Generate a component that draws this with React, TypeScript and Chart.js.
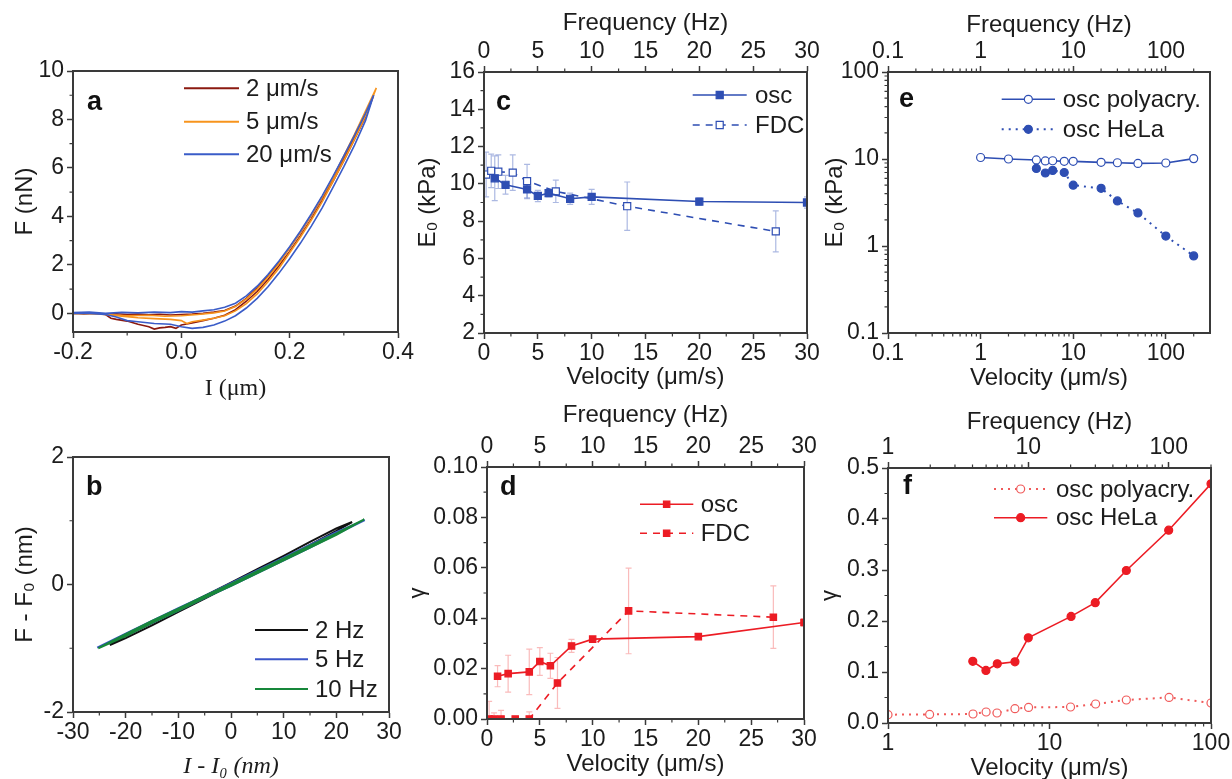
import React, { useEffect, useRef } from "react";
import { Chart, registerables } from "chart.js";
Chart.register(...registerables);

const SANS = "'Liberation Sans', Arial, Helvetica, sans-serif";
const SERIF = "'Liberation Serif', 'Times New Roman', serif";
const AX = "#3a3a3a";
const TXT = "#1c1c1c";
const BLUE = "#2e4eb3";
const BLUE_ERR = "rgba(70,100,190,0.45)";
const RED = "#ec1c24";
const RED_ERR = "rgba(240,60,60,0.35)";
const RED_LIGHT = "#f05a5a";

// ---------- panel a : force curves ----------
const aRedX = [-0.2,-0.18,-0.16,-0.14,-0.12,-0.1,-0.08,-0.06,-0.04,-0.02,0.0,0.02,0.04,0.06,0.08,0.1,0.12,0.14,0.16,0.18,0.2,0.22,0.24,0.26,0.28,0.3,0.32,0.34,0.355,0.34,0.32,0.3,0.28,0.26,0.24,0.22,0.2,0.18,0.16,0.14,0.12,0.1,0.08,0.06,0.04,0.02,0.0,-0.01,-0.02,-0.03,-0.04,-0.05,-0.06,-0.07,-0.08,-0.1,-0.12,-0.13,-0.14,-0.16,-0.2];
const aRedY = [0.02,-0.03,0.01,-0.04,-0.02,-0.05,-0.03,-0.06,-0.04,-0.07,-0.05,-0.03,0.0,0.05,0.12,0.3,0.62,1.05,1.55,2.1,2.7,3.35,4.05,4.8,5.6,6.45,7.35,8.25,9.0,8.1,7.2,6.3,5.45,4.65,3.9,3.2,2.55,1.95,1.4,0.9,0.5,0.15,-0.08,-0.2,-0.3,-0.4,-0.48,-0.62,-0.55,-0.58,-0.6,-0.65,-0.55,-0.5,-0.45,-0.32,-0.25,-0.2,-0.05,0.0,0.0];
const aOrgX = [-0.2,-0.17,-0.14,-0.1,-0.06,-0.03,0.0,0.03,0.06,0.08,0.1,0.12,0.14,0.16,0.18,0.2,0.22,0.24,0.26,0.28,0.3,0.32,0.34,0.36,0.34,0.32,0.3,0.28,0.26,0.24,0.22,0.2,0.18,0.16,0.14,0.12,0.1,0.08,0.06,0.04,0.02,0.01,0.0,-0.02,-0.05,-0.08,-0.11,-0.14,-0.17,-0.2];
const aOrgY = [-0.02,0.0,-0.05,-0.1,-0.08,-0.12,-0.1,-0.05,0.02,0.1,0.28,0.6,1.0,1.5,2.05,2.7,3.35,4.05,4.8,5.6,6.5,7.4,8.35,9.3,8.15,7.2,6.3,5.45,4.6,3.85,3.15,2.5,1.85,1.3,0.8,0.4,0.1,-0.1,-0.2,-0.28,-0.35,-0.42,-0.3,-0.25,-0.22,-0.18,-0.12,-0.05,-0.02,-0.02];
const aBluX = [-0.2,-0.17,-0.14,-0.11,-0.08,-0.05,-0.02,0.0,0.02,0.04,0.06,0.08,0.1,0.12,0.14,0.16,0.18,0.2,0.22,0.24,0.26,0.28,0.3,0.32,0.34,0.355,0.34,0.32,0.3,0.28,0.26,0.24,0.22,0.2,0.18,0.16,0.14,0.12,0.1,0.08,0.06,0.04,0.02,0.0,-0.02,-0.05,-0.08,-0.1,-0.12,-0.14,-0.17,-0.2];
const aBluY = [0.03,0.05,0.0,0.04,0.02,0.05,0.03,0.07,0.05,0.1,0.15,0.25,0.42,0.72,1.12,1.6,2.15,2.75,3.4,4.1,4.85,5.65,6.5,7.35,8.25,9.0,7.95,6.95,6.05,5.2,4.35,3.6,2.9,2.25,1.65,1.1,0.62,0.22,-0.1,-0.32,-0.48,-0.58,-0.62,-0.55,-0.45,-0.42,-0.35,-0.3,-0.15,-0.05,0.0,0.0];

// ---------- panel b : oscillation loops ----------
const bBlkX = [-23,-20,-15,-10,-5,0,5,10,15,20,23,20,15,10,5,0,-5,-10,-15,-20,-23];
const bBlkY = [-0.95,-0.84,-0.64,-0.43,-0.22,-0.01,0.2,0.41,0.62,0.84,0.98,0.88,0.67,0.45,0.24,0.03,-0.18,-0.39,-0.6,-0.8,-0.95];
const bBluX = [-25.4,-20,-15,-10,-5,0,5,10,15,20,25.4,20,15,10,5,0,-5,-10,-15,-20,-25.4];
const bBluY = [-0.99,-0.8,-0.6,-0.41,-0.21,-0.02,0.18,0.38,0.58,0.79,1.01,0.82,0.62,0.42,0.22,0.02,-0.18,-0.37,-0.57,-0.77,-0.99];
const bGrnX = [-25.2,-20,-15,-10,-5,0,5,10,15,20,25.3,20,15,10,5,0,-5,-10,-15,-20,-25.2];
const bGrnY = [-1.0,-0.78,-0.57,-0.38,-0.18,0.01,0.21,0.41,0.61,0.8,1.02,0.78,0.58,0.38,0.18,-0.02,-0.21,-0.41,-0.6,-0.81,-1.0];

// ---------- panel c : E0 vs velocity ----------
const cOscV = [1, 2, 4, 5, 6, 8, 10, 20, 30];
const cOscE = [10.3, 9.95, 9.7, 9.35, 9.5, 9.2, 9.3, 9.05, 9.0];
const cOscErr = [1.2, 0.5, 0.5, 0.3, 0.2, 0.3, 0.4, 0.2, 0.3];
const cFdcV = [0.2, 0.67, 1.33, 2.67, 4, 6.67, 13.3, 27.1];
const cFdcE = [10.5, 10.7, 10.65, 10.6, 10.15, 9.6, 8.8, 7.45];
const cFdcErr = [1.2, 0.9, 0.9, 0.95, 0.9, 0.6, 1.3, 1.1];

// ---------- panel d : gamma vs velocity ----------
const dOscV = [1, 2, 4, 5, 6, 8, 10, 20, 30];
const dOscG = [0.017, 0.018, 0.0187, 0.0228, 0.0211, 0.029, 0.0317, 0.0327, 0.0383];
const dOscErr = [0.0042, 0.0073, 0.009, 0.0055, 0.005, 0.0026, 0.001, 0.001, 0.0015];
const dFdcV = [0.2, 0.67, 1.33, 2.67, 4, 6.67, 13.4, 27.1];
const dFdcG = [0, 0, 0, 0, 0, 0.0143, 0.0429, 0.0404];
const dFdcErr = [0.007, 0.0024, 0.0034, 0, 0.0028, 0.0101, 0.017, 0.0124];

// ---------- panel e : E0 log-log ----------
const ePolyV = [1, 2, 4, 5, 6, 8, 10, 20, 30, 50, 100, 200];
const ePolyE = [10.4, 10.0, 9.75, 9.5, 9.55, 9.4, 9.4, 9.15, 9.05, 8.9, 9.0, 10.1];
const eHelaV = [4, 5, 6, 8, 10, 20, 30, 50, 100, 200];
const eHelaE = [7.8, 6.9, 7.4, 7.0, 5.0, 4.6, 3.3, 2.4, 1.3, 0.77];

// ---------- panel f : gamma vs velocity (log x) ----------
const fPolyV = [1.0, 1.81, 3.36, 4.05, 4.73, 6.11, 7.42, 13.5, 19.3, 29.9, 55, 100];
const fPolyG = [0.0163, 0.0169, 0.0176, 0.0216, 0.0196, 0.028, 0.0306, 0.0314, 0.0373, 0.0451, 0.0502, 0.0392];
const fPolyErr = [0.002, 0.002, 0.006, 0.003, 0.002, 0.003, 0.003, 0.003, 0.002, 0.002, 0.002, 0.004];
const fHelaV = [3.35, 4.04, 4.75, 6.11, 7.39, 13.6, 19.2, 29.9, 54.7, 100];
const fHelaG = [0.121, 0.103, 0.116, 0.12, 0.167, 0.209, 0.236, 0.299, 0.378, 0.469];

// ---------- tick lists ----------
const logMinor = (decades: number[]) => {
  const out: number[] = [];
  decades.forEach((d) => [2, 3, 4, 5, 6, 7, 8, 9].forEach((k) => out.push(+(d * k).toPrecision(3))));
  return out;
};

const pts = (xs: number[], ys: number[]) => xs.map((x, i) => ({ x, y: ys[i] }));

const L = 90, T = 70, B = 80, R = 30;

type AxisSpec = {
  type: "linear" | "logarithmic";
  min: number; max: number;
  majors: number[]; minors: number[];
  fmt: (v: number) => string;
  title?: string; titleFont?: any; titlePad?: number;
};
type LegendRow = { dy: number; color: string; dash: number[]; lw: number; marker?: "rect" | "circle"; r?: number; filled?: boolean; text: string };
type PanelSpec = {
  left: number; top: number; right: number; bottom: number;
  x: AxisSpec; y: AxisSpec; x2?: AxisSpec;
  datasets: any[];
  label: { text: string; dx: number; dy: number };
  legend: { x0: number; x1: number; tx: number; rows: LegendRow[] };
};

const f1 = (v: number) => v.toFixed(1);
const f0 = (v: number) => String(Math.round(v));
const f2 = (v: number) => v.toFixed(2);
const fLog = (v: number) => String(v);

function axis(spec: AxisSpec, pos: "bottom" | "top" | "left", size: number) {
  return {
    type: spec.type,
    position: pos,
    min: spec.min,
    max: spec.max,
    afterBuildTicks: (s: any) => {
      s.ticks = spec.majors.map((v) => ({ value: v }));
    },
    afterFit: (s: any) => {
      if (pos === "left") s.width = size;
      else s.height = size;
    },
    ticks: {
      font: { family: SANS, size: 23 },
      color: TXT,
      padding: pos === "left" ? 3 : 1,
      autoSkip: false,
      maxRotation: 0,
      minRotation: 0,
      callback: (v: any) => spec.fmt(Number(v)),
    },
    grid: { display: true, drawOnChartArea: false, drawTicks: true, tickLength: 6, tickColor: AX, tickWidth: 1.5, color: AX },
    border: { display: true, color: AX, width: 2 },
    title: spec.title
      ? { display: true, text: spec.title, color: TXT, font: spec.titleFont ?? { family: SANS, size: 24 }, padding: { top: spec.titlePad ?? 0, bottom: spec.titlePad ?? 0 } }
      : { display: false },
  };
}

const errorBarPlugin = {
  id: "errbars",
  beforeDatasetsDraw(chart: any) {
    const { ctx, chartArea } = chart;
    const xs = chart.scales.x, ys = chart.scales.y;
    ctx.save();
    ctx.beginPath();
    ctx.rect(chartArea.left, chartArea.top, chartArea.right - chartArea.left, chartArea.bottom - chartArea.top);
    ctx.clip();
    chart.data.datasets.forEach((ds: any) => {
      if (!ds.errors) return;
      ctx.strokeStyle = ds.errColor;
      ctx.lineWidth = 1.2;
      ds.data.forEach((p: any, i: number) => {
        const e = ds.errors[i];
        if (!e) return;
        const px = xs.getPixelForValue(p.x);
        const y1 = ys.getPixelForValue(p.y - e);
        const y2 = ys.getPixelForValue(p.y + e);
        ctx.beginPath();
        ctx.moveTo(px, y1); ctx.lineTo(px, y2);
        ctx.moveTo(px - 3, y1); ctx.lineTo(px + 3, y1);
        ctx.moveTo(px - 3, y2); ctx.lineTo(px + 3, y2);
        ctx.stroke();
      });
    });
    ctx.restore();
  },
};

function drawMarker(ctx: CanvasRenderingContext2D, kind: string, x: number, y: number, r: number, color: string, filled: boolean) {
  ctx.beginPath();
  if (kind === "rect") {
    const s = r * Math.SQRT1_2;
    ctx.rect(x - s, y - s, 2 * s, 2 * s);
  } else {
    ctx.arc(x, y, r, 0, Math.PI * 2);
  }
  ctx.setLineDash([]);
  ctx.fillStyle = filled ? color : "#fff";
  ctx.fill();
  ctx.strokeStyle = color;
  ctx.lineWidth = 1.2;
  ctx.stroke();
}

function decorPlugin(spec: PanelSpec) {
  return {
    id: "decor",
    afterDraw(chart: any) {
      const { ctx, chartArea } = chart;
      const { left, top, right, bottom } = chartArea;
      ctx.save();
      // frame
      ctx.strokeStyle = AX;
      ctx.lineWidth = 2;
      ctx.setLineDash([]);
      ctx.strokeRect(left, top, right - left, bottom - top);
      // minor ticks
      ctx.lineWidth = 1.2;
      const mt = 3.5;
      const sx = chart.scales.x, sy = chart.scales.y, sx2 = chart.scales.x2;
      ctx.beginPath();
      spec.x.minors.forEach((v) => {
        const p = sx.getPixelForValue(v);
        ctx.moveTo(p, bottom); ctx.lineTo(p, bottom + mt);
      });
      spec.y.minors.forEach((v) => {
        const p = sy.getPixelForValue(v);
        ctx.moveTo(left, p); ctx.lineTo(left - mt, p);
      });
      if (spec.x2 && sx2) {
        spec.x2.minors.forEach((v) => {
          const p = sx2.getPixelForValue(v);
          ctx.moveTo(p, top); ctx.lineTo(p, top - mt);
        });
      }
      ctx.stroke();
      // panel letter
      ctx.fillStyle = "#111";
      ctx.font = `bold 27px ${SANS}`;
      ctx.textAlign = "left";
      ctx.textBaseline = "alphabetic";
      ctx.fillText(spec.label.text, left + spec.label.dx, top + spec.label.dy);
      // legend
      const lg = spec.legend;
      ctx.font = `24px ${SANS}`;
      ctx.textBaseline = "middle";
      lg.rows.forEach((row) => {
        const y = top + row.dy;
        ctx.strokeStyle = row.color;
        ctx.lineWidth = row.lw;
        ctx.setLineDash(row.dash);
        ctx.beginPath();
        ctx.moveTo(left + lg.x0, y);
        ctx.lineTo(left + lg.x1, y);
        ctx.stroke();
        if (row.marker) drawMarker(ctx, row.marker, left + (lg.x0 + lg.x1) / 2, y, row.r ?? 4, row.color, !!row.filled);
        ctx.setLineDash([]);
        ctx.fillStyle = TXT;
        ctx.fillText(row.text, left + lg.tx, y + 1);
      });
      ctx.restore();
    },
  };
}

const lineDs = (data: any[], color: string, lw = 1.6) => ({
  data, borderColor: color, backgroundColor: color, borderWidth: lw, pointRadius: 0, showLine: true, tension: 0, fill: false, xAxisID: "x", yAxisID: "y",
});
const markDs = (data: any[], color: string, opts: any) => ({
  data, borderColor: color, backgroundColor: color, borderWidth: 1.6, showLine: true, tension: 0, fill: false, xAxisID: "x", yAxisID: "y",
  pointBorderColor: color, pointBorderWidth: 1.2, ...opts,
});

const PANELS: PanelSpec[] = [
  {
    left: 73, top: 71, right: 398, bottom: 332,
    x: { type: "linear", min: -0.2, max: 0.4, majors: [-0.2, 0, 0.2, 0.4], minors: [-0.1, 0.1, 0.3], fmt: f1, title: "I (μm)", titleFont: { family: SERIF, size: 24 }, titlePad: 9 },
    y: { type: "linear", min: -0.77, max: 10, majors: [0, 2, 4, 6, 8, 10], minors: [1, 3, 5, 7, 9], fmt: f0, title: "F (nN)", titlePad: 27.6 },
    datasets: [lineDs(pts(aBluX, aBluY), "#3a5cc8"), lineDs(pts(aOrgX, aOrgY), "#f7941d"), lineDs(pts(aRedX, aRedY), "#8b1a10")],
    label: { text: "a", dx: 14, dy: 39 },
    legend: {
      x0: 111, x1: 166, tx: 173,
      rows: [
        { dy: 17.3, color: "#8b1a10", dash: [], lw: 2, text: "2 μm/s" },
        { dy: 50.7, color: "#f7941d", dash: [], lw: 2, text: "5 μm/s" },
        { dy: 83.3, color: "#3a5cc8", dash: [], lw: 2, text: "20 μm/s" },
      ],
    },
  },
  {
    left: 73, top: 457, right: 389, bottom: 712,
    x: { type: "linear", min: -30, max: 30, majors: [-30, -20, -10, 0, 10, 20, 30], minors: [-25, -15, -5, 5, 15, 25], fmt: f0, title: "I - I₀ (nm)", titleFont: { family: SERIF, size: 24, style: "italic" }, titlePad: 10.6 },
    y: { type: "linear", min: -2, max: 2, majors: [-2, 0, 2], minors: [-1, 1], fmt: f0, title: "F - F₀ (nm)", titlePad: 27.6 },
    datasets: [lineDs(pts(bGrnX, bGrnY), "#17873a", 2), lineDs(pts(bBluX, bBluY), "#3b55c8", 2), lineDs(pts(bBlkX, bBlkY), "#111111", 2)],
    label: { text: "b", dx: 13, dy: 38 },
    legend: {
      x0: 182, x1: 235, tx: 242,
      rows: [
        { dy: 173, color: "#111111", dash: [], lw: 2, text: "2 Hz" },
        { dy: 202.3, color: "#3b55c8", dash: [], lw: 2, text: "5 Hz" },
        { dy: 232, color: "#17873a", dash: [], lw: 2, text: "10 Hz" },
      ],
    },
  },
  {
    left: 484, top: 72, right: 807, bottom: 333,
    x: { type: "linear", min: 0, max: 30, majors: [0, 5, 10, 15, 20, 25, 30], minors: [2.5, 7.5, 12.5, 17.5, 22.5, 27.5], fmt: f0, title: "Velocity (μm/s)", titlePad: 21.3 },
    x2: { type: "linear", min: 0, max: 30, majors: [0, 5, 10, 15, 20, 25, 30], minors: [2.5, 7.5, 12.5, 17.5, 22.5, 27.5], fmt: f0, title: "Frequency (Hz)", titlePad: 6.9 },
    y: { type: "linear", min: 2, max: 16, majors: [2, 4, 6, 8, 10, 12, 14, 16], minors: [3, 5, 7, 9, 11, 13, 15], fmt: f0, title: "E₀ (kPa)", titlePad: 19.6 },
    datasets: [
      { ...markDs(pts(cOscV, cOscE), BLUE, { pointStyle: "rect", pointRadius: 5, pointBackgroundColor: BLUE }), errors: cOscErr, errColor: BLUE_ERR },
      { ...markDs(pts(cFdcV, cFdcE), BLUE, { pointStyle: "rect", pointRadius: 5, pointBackgroundColor: "#ffffff", borderDash: [7, 6] }), errors: cFdcErr, errColor: BLUE_ERR },
    ],
    label: { text: "c", dx: 12, dy: 38 },
    legend: {
      x0: 208.7, x1: 262.7, tx: 271,
      rows: [
        { dy: 23, color: BLUE, dash: [], lw: 1.6, marker: "rect", r: 5, filled: true, text: "osc" },
        { dy: 53, color: BLUE, dash: [7, 6], lw: 1.6, marker: "rect", r: 5, filled: false, text: "FDC" },
      ],
    },
  },
  {
    left: 487, top: 467, right: 804, bottom: 719,
    x: { type: "linear", min: 0, max: 30, majors: [0, 5, 10, 15, 20, 25, 30], minors: [2.5, 7.5, 12.5, 17.5, 22.5, 27.5], fmt: f0, title: "Velocity (μm/s)", titlePad: 19.9 },
    x2: { type: "linear", min: 0, max: 30, majors: [0, 5, 10, 15, 20, 25, 30], minors: [2.5, 7.5, 12.5, 17.5, 22.5, 27.5], fmt: f0, title: "Frequency (Hz)", titlePad: 3.9 },
    y: { type: "linear", min: 0, max: 0.1, majors: [0, 0.02, 0.04, 0.06, 0.08, 0.1], minors: [0.01, 0.03, 0.05, 0.07, 0.09], fmt: f2, title: "γ", titleFont: { family: SANS, size: 22 }, titlePad: 8.1 },
    datasets: [
      { ...markDs(pts(dOscV, dOscG), RED, { pointStyle: "rect", pointRadius: 4.5, pointBackgroundColor: RED }), errors: dOscErr, errColor: RED_ERR },
      { ...markDs(pts(dFdcV, dFdcG), RED, { pointStyle: "rect", pointRadius: 4.5, pointBackgroundColor: RED, borderDash: [7, 6] }), errors: dFdcErr, errColor: RED_ERR },
    ],
    label: { text: "d", dx: 13, dy: 28 },
    legend: {
      x0: 153, x1: 206.3, tx: 213.7,
      rows: [
        { dy: 37.3, color: RED, dash: [], lw: 1.6, marker: "rect", r: 4.5, filled: true, text: "osc" },
        { dy: 66.3, color: RED, dash: [7, 6], lw: 1.6, marker: "rect", r: 4.5, filled: true, text: "FDC" },
      ],
    },
  },
  {
    left: 888, top: 72, right: 1210, bottom: 333,
    x: { type: "logarithmic", min: 0.1, max: 300, majors: [0.1, 1, 10, 100], minors: logMinor([0.1, 1, 10]).concat([200]), fmt: fLog, title: "Velocity (μm/s)", titlePad: 20.6 },
    x2: { type: "logarithmic", min: 0.1, max: 300, majors: [0.1, 1, 10, 100], minors: logMinor([0.1, 1, 10]).concat([200]), fmt: fLog, title: "Frequency (Hz)", titlePad: 8.6 },
    y: { type: "logarithmic", min: 0.1, max: 100, majors: [0.1, 1, 10, 100], minors: logMinor([0.1, 1, 10]), fmt: fLog, title: "E₀ (kPa)", titlePad: 22.6 },
    datasets: [
      markDs(pts(ePolyV, ePolyE), BLUE, { pointStyle: "circle", pointRadius: 4, pointBackgroundColor: "#ffffff" }),
      markDs(pts(eHelaV, eHelaE), BLUE, { pointStyle: "circle", pointRadius: 4, pointBackgroundColor: BLUE, borderDash: [2, 5], borderWidth: 2 }),
    ],
    label: { text: "e", dx: 11, dy: 35 },
    legend: {
      x0: 113.7, x1: 167, tx: 174.7,
      rows: [
        { dy: 27.3, color: BLUE, dash: [], lw: 1.6, marker: "circle", r: 4, filled: false, text: "osc polyacry." },
        { dy: 57.3, color: BLUE, dash: [2, 5], lw: 2, marker: "circle", r: 4, filled: true, text: "osc HeLa" },
      ],
    },
  },
  {
    left: 888, top: 468, right: 1211, bottom: 723,
    x: { type: "logarithmic", min: 1, max: 100, majors: [1, 10, 100], minors: logMinor([1, 10]), fmt: fLog, title: "Velocity (μm/s)", titlePad: 20.6 },
    x2: { type: "logarithmic", min: 1, max: 200, majors: [1, 10, 100], minors: logMinor([1, 10]).concat([200]), fmt: fLog, title: "Frequency (Hz)", titlePad: 9.6 },
    y: { type: "linear", min: 0, max: 0.5, majors: [0, 0.1, 0.2, 0.3, 0.4, 0.5], minors: [0.05, 0.15, 0.25, 0.35, 0.45], fmt: f1, title: "γ", titleFont: { family: SANS, size: 22 }, titlePad: 19.1 },
    datasets: [
      markDs(pts(fHelaV, fHelaG), RED, { pointStyle: "circle", pointRadius: 4, pointBackgroundColor: RED }),
      { ...markDs(pts(fPolyV, fPolyG), RED_LIGHT, { pointStyle: "circle", pointRadius: 4, pointBackgroundColor: "#ffffff", borderDash: [2, 5], borderWidth: 2 }), errors: fPolyErr, errColor: RED_ERR },
    ],
    label: { text: "f", dx: 15, dy: 26 },
    legend: {
      x0: 106, x1: 159.3, tx: 168,
      rows: [
        { dy: 21, color: RED_LIGHT, dash: [2, 5], lw: 2, marker: "circle", r: 4, filled: false, text: "osc polyacry." },
        { dy: 49.7, color: RED, dash: [], lw: 1.6, marker: "circle", r: 4, filled: true, text: "osc HeLa" },
      ],
    },
  },
];

function buildConfig(spec: PanelSpec): any {
  const scales: any = {
    x: axis(spec.x, "bottom", B),
    y: axis(spec.y, "left", L),
  };
  if (spec.x2) scales.x2 = axis(spec.x2, "top", T);
  return {
    type: "scatter",
    data: { datasets: spec.datasets },
    options: {
      responsive: false,
      animation: false,
      events: [],
      layout: { autoPadding: false, padding: { top: spec.x2 ? 0 : T, right: R, left: 0, bottom: 0 } },
      plugins: { legend: { display: false }, tooltip: { enabled: false } },
      scales,
    },
    plugins: [errorBarPlugin, decorPlugin(spec)],
  };
}

function Panel({ spec }: { spec: PanelSpec }) {
  const ref = useRef<HTMLCanvasElement>(null);
  const W = L + (spec.right - spec.left) + R;
  const H = T + (spec.bottom - spec.top) + B;
  useEffect(() => {
    const chart = new Chart(ref.current as HTMLCanvasElement, buildConfig(spec));
    return () => chart.destroy();
  }, []);
  return (
    <canvas
      ref={ref}
      width={W}
      height={H}
      style={{ position: "absolute", left: spec.left - L, top: spec.top - T, width: W, height: H }}
    />
  );
}

export default function App() {
  return (
    <div style={{ position: "fixed", left: 0, top: 0, width: 1232, height: 779, overflow: "hidden", background: "#ffffff" }}>
      {PANELS.map((p, i) => (
        <Panel key={i} spec={p} />
      ))}
    </div>
  );
}
